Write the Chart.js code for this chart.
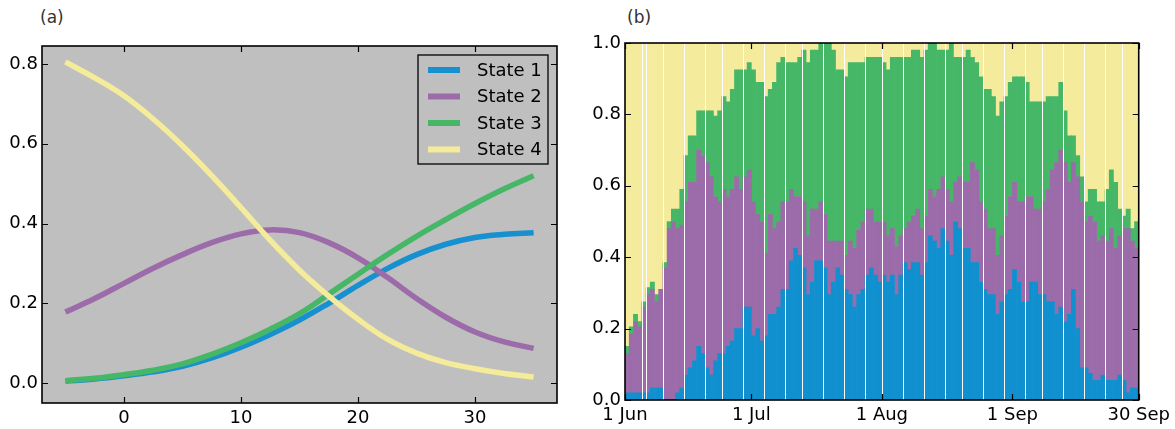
<!DOCTYPE html>
<html>
<head>
<meta charset="utf-8">
<script src="https://cdn.jsdelivr.net/npm/chart.js@4.4.1/dist/chart.umd.min.js"></script>
<style>
  body { margin: 0; background: #fff; width: 1175px; height: 429px; position: relative; overflow: hidden; font-family: 'DejaVu Sans', sans-serif; }
  .wrap { position: absolute; top: 0; height: 429px; }
  #wrapA { left: 0; width: 580px; }
  #wrapB { left: 585px; width: 590px; }
  .panel-label { position: absolute; top: 7px; font-size: 17px; color: #333; }
</style>
</head>
<body>
<div class="panel-label" style="left:40px">(a)</div>
<div class="panel-label" style="left:627px">(b)</div>
<div class="wrap" id="wrapA"><canvas id="chartA" width="580" height="429"></canvas></div>
<div class="wrap" id="wrapB"><canvas id="chartB" width="590" height="429"></canvas></div>
<script>
// ---- panel (a): probability of each state ----
const tValues = [-5, -2.5, 0, 2.5, 5, 7.5, 10, 12.5, 15, 17.5, 20, 22.5, 25, 27.5, 30, 32.5, 35];
const state1Line = [0.005, 0.010, 0.018, 0.028, 0.042, 0.063, 0.090, 0.122, 0.158, 0.200, 0.245, 0.287, 0.322, 0.348, 0.365, 0.373, 0.377];
const state2Line = [0.178, 0.212, 0.250, 0.288, 0.322, 0.352, 0.374, 0.384, 0.377, 0.352, 0.314, 0.265, 0.212, 0.165, 0.128, 0.103, 0.087];
const state3Line = [0.006, 0.012, 0.021, 0.032, 0.048, 0.072, 0.101, 0.135, 0.174, 0.223, 0.273, 0.322, 0.368, 0.410, 0.450, 0.487, 0.520];
const state4Line = [0.805, 0.765, 0.720, 0.662, 0.595, 0.520, 0.440, 0.358, 0.283, 0.218, 0.160, 0.110, 0.075, 0.051, 0.036, 0.024, 0.015];
const aXTicks = [0, 10, 20, 30];
const aYTicks = [0.0, 0.2, 0.4, 0.6, 0.8];

// ---- panel (b): daily stacked shares, 1 Jun .. 30 Sep (cumulative tops) ----
const state1Top = [
  0.02, 0.02, 0.02, 0.02, 0.02, 0.02, 0.035, 0.035, 0.035, 0, 0, 0, 0.02, 0.035, 0.07, 0.09, 0.11, 0.15, 0.13, 0.09,
  0.07, 0.11, 0.13, 0.13, 0.15, 0.165, 0.20, 0.20, 0.26, 0.26, 0.18, 0.20, 0.165, 0.18, 0.24, 0.24, 0.26, 0.31, 0.31, 0.39,
  0.425, 0.405, 0.37, 0.295, 0.33, 0.39, 0.39, 0.37, 0.295, 0.33, 0.37, 0.35, 0.31, 0.295, 0.26, 0.295, 0.31, 0.35, 0.37, 0.35,
  0.33, 0.35, 0.33, 0.35, 0.295, 0.35, 0.385, 0.365, 0.385, 0.385, 0.35, 0.385, 0.46, 0.445, 0.425, 0.48, 0.445, 0.405, 0.50, 0.48,
  0.425, 0.425, 0.385, 0.385, 0.33, 0.31, 0.295, 0.295, 0.24, 0.275, 0.295, 0.31, 0.365, 0.33, 0.275, 0.275, 0.33, 0.33, 0.295, 0.295,
  0.275, 0.275, 0.24, 0.26, 0.22, 0.24, 0.31, 0.20, 0.09, 0.09, 0.075, 0.055, 0.055, 0.07, 0.055, 0.055, 0.055, 0.07, 0.055, 0.02,
  0.035, 0.035
];
const state2Top = [
  0.13, 0.185, 0.22, 0.205, 0.26, 0.295, 0.31, 0.275, 0.31, 0.37, 0.48, 0.50, 0.48, 0.49, 0.555, 0.61, 0.61, 0.70, 0.685, 0.665,
  0.625, 0.57, 0.555, 0.59, 0.57, 0.59, 0.625, 0.59, 0.625, 0.645, 0.555, 0.52, 0.50, 0.41, 0.52, 0.48, 0.50, 0.555, 0.555, 0.59,
  0.57, 0.57, 0.555, 0.46, 0.535, 0.535, 0.555, 0.52, 0.445, 0.445, 0.445, 0.445, 0.405, 0.445, 0.425, 0.475, 0.50, 0.535, 0.535, 0.50,
  0.50, 0.50, 0.46, 0.48, 0.43, 0.46, 0.48, 0.50, 0.515, 0.535, 0.48, 0.515, 0.59, 0.57, 0.59, 0.625, 0.59, 0.555, 0.61, 0.625,
  0.61, 0.61, 0.665, 0.645, 0.555, 0.535, 0.48, 0.48, 0.405, 0.46, 0.515, 0.57, 0.61, 0.555, 0.555, 0.57, 0.57, 0.535, 0.535, 0.555,
  0.59, 0.645, 0.665, 0.70, 0.665, 0.61, 0.665, 0.625, 0.555, 0.50, 0.515, 0.50, 0.445, 0.46, 0.445, 0.48, 0.425, 0.46, 0.48, 0.48,
  0.445, 0.425
];
const state3Top = [
  0.15, 0.205, 0.24, 0.22, 0.275, 0.315, 0.33, 0.295, 0.31, 0.385, 0.50, 0.535, 0.535, 0.59, 0.685, 0.74, 0.74, 0.81, 0.81, 0.81,
  0.81, 0.795, 0.81, 0.85, 0.835, 0.87, 0.925, 0.925, 0.925, 0.945, 0.925, 0.89, 0.89, 0.85, 0.87, 0.89, 0.945, 0.96, 0.945, 0.945,
  0.945, 0.96, 0.98, 0.945, 0.98, 0.98, 1.0, 1.0, 1.0, 0.98, 0.925, 0.925, 0.905, 0.945, 0.945, 0.945, 0.945, 0.96, 0.96, 0.96,
  0.96, 0.945, 0.925, 0.96, 0.96, 0.96, 0.96, 0.96, 0.98, 0.98, 0.96, 0.98, 1.0, 1.0, 0.98, 0.98, 0.98, 1.0, 0.96, 0.96,
  0.96, 0.98, 0.96, 0.945, 0.905, 0.87, 0.87, 0.85, 0.795, 0.835, 0.85, 0.89, 0.905, 0.905, 0.905, 0.89, 0.835, 0.835, 0.835, 0.835,
  0.85, 0.85, 0.85, 0.89, 0.81, 0.74, 0.74, 0.685, 0.625, 0.555, 0.59, 0.59, 0.555, 0.555, 0.59, 0.645, 0.61, 0.535, 0.515, 0.535,
  0.48, 0.50
];
const dayTickValues = [0, 30, 61, 92, 122];
const dayTickLabels = ['1 Jun', '1 Jul', '1 Aug', '1 Sep', '30 Sep'];
const bYTicks = [0.0, 0.2, 0.4, 0.6, 0.8, 1.0];

const colBlue = '#1190cf', colPurple = '#9c6ba9', colGreen = '#45b767', colYellow = '#f4eb9d';

Chart.defaults.font.family = "'DejaVu Sans', sans-serif";
Chart.defaults.font.size = 18;
Chart.defaults.color = '#000';
Chart.defaults.animation = false;

// black frame and inward ticks on all four sides
const frameTicks = {
  id: 'frameTicks',
  afterDatasetsDraw(chart) {
    const ctx = chart.ctx, a = chart.chartArea;
    const xs = chart.scales.x, ys = chart.scales.y;
    ctx.save();
    ctx.strokeStyle = '#000';
    ctx.lineWidth = 1.2;
    ctx.beginPath();
    xs.ticks.forEach(t => {
      const px = Math.round(xs.getPixelForValue(t.value)) + 0.5;
      ctx.moveTo(px, a.bottom); ctx.lineTo(px, a.bottom - 6);
      ctx.moveTo(px, a.top); ctx.lineTo(px, a.top + 6);
    });
    ys.ticks.forEach(t => {
      const py = Math.round(ys.getPixelForValue(t.value)) + 0.5;
      ctx.moveTo(a.left, py); ctx.lineTo(a.left + 6, py);
      ctx.moveTo(a.right, py); ctx.lineTo(a.right - 6, py);
    });
    ctx.stroke();
    ctx.lineWidth = 1.6;
    ctx.strokeRect(a.left, a.top, a.right - a.left, a.bottom - a.top);
    ctx.restore();
  }
};

// grey plot background for panel (a)
const greyBack = {
  id: 'greyBack',
  beforeDatasetsDraw(chart) {
    const ctx = chart.ctx, a = chart.chartArea;
    ctx.save();
    ctx.fillStyle = '#bfbfbf';
    ctx.fillRect(a.left, a.top, a.right - a.left, a.bottom - a.top);
    ctx.restore();
  }
};

// boxed legend inside the upper right of panel (a)
const boxLegend = {
  id: 'boxLegend',
  afterDraw(chart) {
    const ctx = chart.ctx, a = chart.chartArea;
    const w = 130, rowH = 26.5, h = 109;
    const left = a.right - 9 - w, top = a.top + 9;
    ctx.save();
    ctx.strokeStyle = '#000';
    ctx.lineWidth = 1.3;
    ctx.strokeRect(left, top, w, h);
    ctx.font = "18px 'DejaVu Sans', sans-serif";
    ctx.textBaseline = 'middle';
    ctx.fillStyle = '#000';
    chart.data.datasets.forEach((ds, i) => {
      const cy = top + 15 + i * rowH;
      ctx.strokeStyle = ds.borderColor;
      ctx.lineWidth = 6;
      ctx.beginPath();
      ctx.moveTo(left + 10, cy); ctx.lineTo(left + 42, cy);
      ctx.stroke();
      ctx.fillText(ds.label, left + 59, cy + 1);
    });
    ctx.restore();
  }
};

// thin white seams that appear between some daily bars in the original
const seamLines = {
  id: 'seamLines',
  afterDatasetsDraw(chart) {
    const ctx = chart.ctx, xs = chart.scales.x, ys = chart.scales.y;
    const p = xs.getPixelForValue(1) - xs.getPixelForValue(0);
    const top = ys.getPixelForValue(1), bottom = ys.getPixelForValue(0);
    ctx.save();
    ctx.fillStyle = '#fff';
    for (let i = 1; i < state1Top.length; i++) {
      if (((i * p + 0.16) % 1) < 0.215) {
        ctx.fillRect(Math.floor(xs.getPixelForValue(i) + 0.16), top, 1, bottom - top);
      }
    }
    ctx.restore();
  }
};

function lineSet(label, values, color, order) {
  return {
    label: label,
    data: tValues.map((t, i) => ({ x: t, y: values[i] })),
    borderColor: color,
    borderWidth: 5.5,
    borderCapStyle: 'butt',
    pointRadius: 0,
    tension: 0.4,
    fill: false,
    order: order
  };
}

new Chart(document.getElementById('chartA'), {
  type: 'line',
  data: {
    datasets: [
      lineSet('State 1', state1Line, '#1790d0', 4),
      lineSet('State 2', state2Line, '#9c6ba9', 3),
      lineSet('State 3', state3Line, '#45b767', 2),
      lineSet('State 4', state4Line, '#f4eb9b', 1)
    ]
  },
  options: {
    responsive: false,
    layout: { padding: { left: 0, top: 46, right: 23, bottom: 0 } },
    plugins: { legend: { display: false }, tooltip: { enabled: false } },
    scales: {
      x: {
        type: 'linear', min: -7, max: 37,
        grid: { display: false, drawTicks: false }, border: { display: false },
        afterBuildTicks: s => { s.ticks = aXTicks.map(v => ({ value: v })); },
        afterFit: s => { s.height = 26; },
        ticks: { padding: 5, maxRotation: 0, callback: v => String(v) }
      },
      y: {
        type: 'linear', min: -0.05, max: 0.845,
        grid: { display: false, drawTicks: false }, border: { display: false },
        afterBuildTicks: s => { s.ticks = aYTicks.map(v => ({ value: v })); },
        afterFit: s => { s.width = 42; },
        ticks: { padding: 4, callback: v => v.toFixed(1) }
      }
    }
  },
  plugins: [greyBack, frameTicks, boxLegend]
});

function barSet(label, lows, highs, color) {
  return {
    label: label,
    data: highs.map((h, i) => ({ x: i + 0.5, y: [lows ? lows[i] : 0, h] })),
    backgroundColor: color,
    borderWidth: 0,
    grouped: false,
    barPercentage: 1,
    categoryPercentage: 1
  };
}

new Chart(document.getElementById('chartB'), {
  type: 'bar',
  data: {
    datasets: [
      barSet('State 1', null, state1Top, colBlue),
      barSet('State 2', state1Top, state2Top, colPurple),
      barSet('State 3', state2Top, state3Top, colGreen),
      barSet('State 4', state3Top, state3Top.map(() => 1), colYellow)
    ]
  },
  options: {
    responsive: false,
    layout: { padding: { left: 0, top: 43, right: 35, bottom: 0 } },
    plugins: { legend: { display: false }, tooltip: { enabled: false } },
    scales: {
      x: {
        type: 'linear', min: 0, max: 122, offset: false,
        grid: { display: false, drawTicks: false }, border: { display: false },
        afterBuildTicks: s => { s.ticks = dayTickValues.map(v => ({ value: v })); },
        afterFit: s => { s.height = 29; },
        ticks: { padding: 5, maxRotation: 0, autoSkip: false, callback: (v, i) => dayTickLabels[i] }
      },
      y: {
        type: 'linear', min: 0, max: 1,
        grid: { display: false, drawTicks: false }, border: { display: false },
        afterBuildTicks: s => { s.ticks = bYTicks.map(v => ({ value: v })); },
        afterFit: s => { s.width = 40; },
        ticks: { padding: 4, callback: v => v.toFixed(1) }
      }
    }
  },
  plugins: [seamLines, frameTicks]
});
</script>
</body>
</html>
